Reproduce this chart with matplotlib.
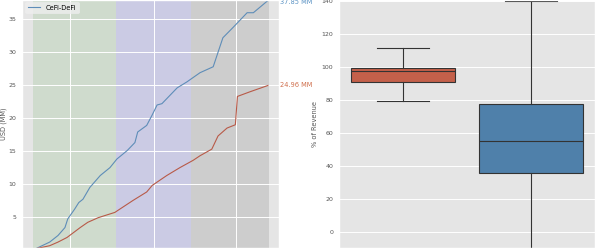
#!/usr/bin/env python3
# -*- coding: UTF-8 -*-

import matplotlib

matplotlib.use("Agg")
import matplotlib.pyplot as plot

# -----------------------------------------------------------------------------

# cumulative USD (MM), x in months since start
cefi_months = [0.0, 2.0, 3.2, 4.2, 4.6, 5.6, 6.2, 6.8, 7.8, 9.3, 10.7, 11.7,
               13.2, 14.3, 14.7, 16.0, 16.2, 16.8, 17.5, 18.2, 20.4, 21.8,
               23.7, 25.6, 27.0, 28.5, 30.5, 31.4, 33.5]
cefi_usd = [0.2, 1.2, 2.2, 3.4, 4.7, 6.2, 7.2, 7.7, 9.5, 11.3, 12.5, 13.8,
            15.1, 16.3, 17.9, 18.9, 19.3, 20.5, 22.0, 22.2, 24.6, 25.5,
            26.9, 27.8, 32.2, 33.8, 36.0, 36.0, 37.85]

defi_months = [0.0, 2.0, 3.2, 4.5, 6.4, 7.5, 9.0, 11.4, 14.0, 16.0, 16.8,
               18.9, 20.8, 22.7, 23.7, 25.4, 26.3, 27.6, 28.8, 29.1, 30.9,
               33.5]
defi_usd = [0.2, 0.65, 1.2, 1.9, 3.4, 4.2, 4.9, 5.7, 7.5, 8.8, 9.8, 11.3,
            12.5, 13.6, 14.3, 15.3, 17.3, 18.5, 19.0, 23.3, 24.0, 24.96]

# shaded periods (months)
periods = [(-0.4, 11.6), (11.6, 22.4), (22.4, 33.6)]
period_colors = ["#cfdbcd", "#cbcbe4", "#cdcdcd"]
month_ticks = [4.9, 17.0, 28.9]

# % of revenue box stats: whislo, q1, med, q3, whishi
box_stats = [
    (79.4, 90.9, 97.6, 99.4, 111.5),
    (-25.0, 35.8, 55.2, 77.6, 140.0),
]
box_colors = ["#c4604a", "#4f80aa"]

# -----------------------------------------------------------------------------

plot.style.use("ggplot")
plot.rcParams["font.size"] = 4.5

fig = plot.figure(figsize=(6.0, 2.48), dpi=100)
ax1 = fig.add_axes([22 / 600, 0.0, 257 / 600, 1.0])
ax2 = fig.add_axes([339 / 600, 0.0, 256 / 600, 1.0])

for (a, b), c in zip(periods, period_colors):
    ax1.axvspan(a, b, color=c, lw=0, zorder=0.1)

ax1.plot(cefi_months, cefi_usd, color="#5e8db8", lw=0.8, label="CeFi-DeFi")
ax1.plot(defi_months, defi_usd, color="#b85a48", lw=0.8, label="_nolegend_")

ax1.annotate(f"{cefi_usd[-1]:.2f} MM", xy=(cefi_months[-1], cefi_usd[-1]),
             xytext=(8.5, -1), textcoords="offset points", va="center",
             color="#5b93c4", fontsize=4.8, annotation_clip=False)
ax1.annotate(f"{defi_usd[-1]:.2f} MM", xy=(defi_months[-1], defi_usd[-1]),
             xytext=(8.5, 0), textcoords="offset points", va="center",
             color="#d0704e", fontsize=4.8, annotation_clip=False)

ax1.set_xlim(-2.0, 35.1)
ax1.set_ylim(0.3, 37.93)
ax1.set_xticks(month_ticks)
ax1.set_xticklabels([])
ax1.set_yticks([5, 10, 15, 20, 25, 30, 35])
ax1.set_ylabel("USD (MM)", fontsize=4.8, color="#555555", labelpad=1)
ax1.tick_params(axis="y", length=0, pad=4, labelsize=4.5, colors="#555555")
ax1.tick_params(axis="x", length=0)
ax1.grid(True, color="white", lw=0.7)

leg = ax1.legend(loc="upper left", bbox_to_anchor=(0.0, 1.005), fontsize=4.8,
                 frameon=True, handlelength=1.8, borderpad=0.4)
leg.get_frame().set_facecolor("#eeeeee")
leg.get_frame().set_edgecolor("#eeeeee")

# -----------------------------------------------------------------------------

stats = []
for s in box_stats:
    lo, q1, med, q3, hi = s
    stats.append({"whislo": lo, "q1": q1, "med": med, "q3": q3, "whishi": hi,
                  "fliers": []})

line = {"color": "#333333", "lw": 0.8}
parts = ax2.bxp(stats, positions=[0, 1], widths=0.81, patch_artist=True,
                showfliers=False, boxprops=line, medianprops=line,
                whiskerprops=line, capprops=line, capwidths=0.4)
for patch, c in zip(parts["boxes"], box_colors):
    patch.set_facecolor(c)

ax2.set_xlim(-0.5, 1.5)
ax2.set_ylim(-9.5, 140.8)
ax2.set_xticks([0, 1])
ax2.set_xticklabels([])
ax2.set_yticks([0, 20, 40, 60, 80, 100, 120, 140])
ax2.set_ylabel("% of Revenue", fontsize=4.8, color="#555555", labelpad=3)
ax2.tick_params(axis="y", length=0, pad=4, labelsize=4.5, colors="#555555")
ax2.tick_params(axis="x", length=0)
ax2.grid(True, axis="y", color="white", lw=0.7)
ax2.grid(False, axis="x")

fig.savefig("out.png", format="png", dpi=100)
